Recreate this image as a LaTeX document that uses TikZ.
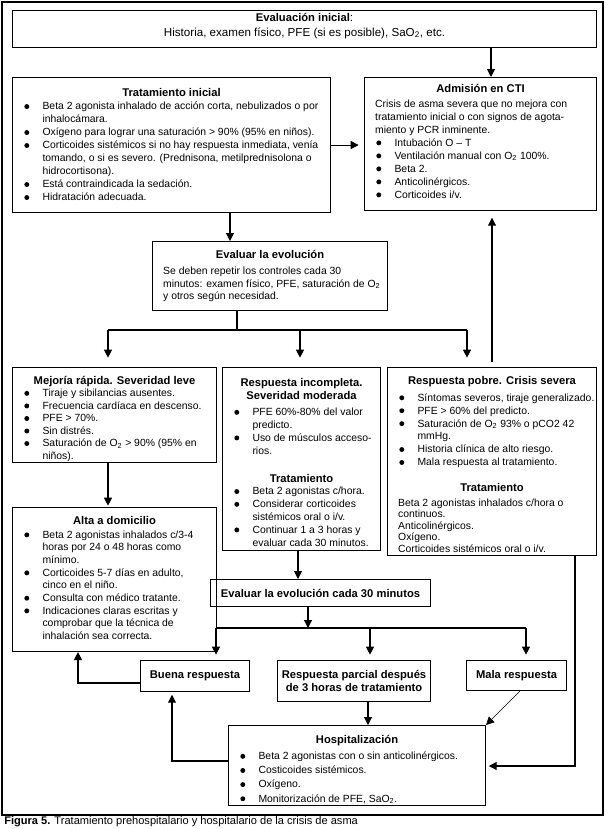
\documentclass[tikz,border=0pt]{standalone}
\usepackage{fontspec}
\setmainfont{Liberation Sans}
\usepackage{pict2e}
\usetikzlibrary{arrows.meta}
\newdimen\pxu \pxu=0.75pt
\newcommand{\lo}[1]{\textsubscript{#1}}
\newcommand{\bls}[1]{\fontsize{7.8}{#1}\selectfont}
\newcommand{\bxc}[4]{\parbox[t][#2\pxu][t]{#1\pxu}{\vspace*{#3pt}\raggedright\leftskip=8pt\rightskip=-20pt plus 1fil\relax #4}}
\newcommand{\ttl}[1]{{\centering\fontsize{8.4}{10}\selectfont\bfseries\strut #1\par}}
\newcommand{\bul}{{\setlength{\unitlength}{1pt}\begin{picture}(4,0)\put(2.1,2.5){\circle*{3.7}}\end{picture}}}
\newcommand{\itm}[1]{\par\noindent\hangindent=14.5pt\hangafter=1\makebox[14.5pt][l]{\hspace{0.6pt}\bul}#1\par}
\newcommand{\txt}[1]{\par\noindent #1\par}
\newcommand{\gap}[1]{\par\vspace{#1pt}}
\tikzset{
  bx/.style={draw, line width=0.8pt, inner sep=0pt, anchor=north west},
  sbx/.style={draw, line width=0.8pt, inner sep=0pt, anchor=north west, align=center, font=\fontsize{8.4}{10}\selectfont\bfseries},
  ln/.style={line width=0.8pt},
  arr/.style={line width=0.8pt, -{Triangle[length=6pt,width=6pt]}},
  tarr/.style={line width=0.4pt, -{Triangle[length=6pt,width=6pt]}},
  every node/.style={font=\fontsize{7.8}{9.4}\selectfont}
}
\begin{document}
\begin{tikzpicture}[x=0.75pt,y=-0.75pt]
\useasboundingbox (0,0) rectangle (606,829);
\draw[ln] (2,2) rectangle (603,815);
% boxes
\node[bx] (ini) at (12,10) {\bxc{584}{37}{2}{{\centering\fontsize{8.7}{11}\selectfont{\fontsize{8.4}{10}\selectfont\bfseries Evaluación inicial}:\\Historia, examen físico, PFE (si es posible), SaO\lo{2}, etc.\par}}};
\node[bx] (trat) at (12,77) {\bxc{318}{135}{7.5}{\bls{9.75}\ttl{Tratamiento inicial}%
\itm{Beta 2 agonista inhalado de acción corta, nebulizados o por\newline inhalocámara.}%
\itm{Oxígeno para lograr una saturación > 90\% (95\% en niños).}%
\itm{Corticoides sistémicos si no hay respuesta inmediata, venía\newline tomando, o si es severo. (Prednisona, metilprednisolona o\newline hidrocortisona).}%
\itm{Está contraindicada la sedación.}%
\itm{Hidratación adecuada.}}};
\node[bx] (adm) at (364,77) {\bxc{232}{133}{4.5}{\bls{9.75}\ttl{Admisión en CTI}\gap{1}%
\txt{Crisis de asma severa que no mejora con\newline tratamiento inicial o con signos de agota-\newline miento y PCR inminente.}%
\itm{Intubación O – T}%
\itm{Ventilación manual con O\lo{2} 100\%.}%
\itm{Beta 2.}%
\itm{Anticolinérgicos.}%
\itm{Corticoides i/v.}}};
\node[bx] (evo) at (152,241) {\bxc{235}{69}{5.5}{\ttl{Evaluar la evolución}\gap{3}%
\txt{Se deben repetir los controles cada 30\newline minutos: examen físico, PFE, saturación de O\lo{2}\newline y otros según necesidad.}}};
\node[bx] (mej) at (12,367) {\bxc{204}{95}{5.5}{\ttl{Mejoría rápida. Severidad leve}%
\itm{Tiraje y sibilancias ausentes.}%
\itm{Frecuencia cardíaca en descenso.}%
\itm{PFE > 70\%.}%
\itm{Sin distrés.}%
\itm{Saturación de O\lo{2} > 90\% (95\% en\newline niños).}}};
\node[bx] (inc) at (222,367) {\bxc{158}{183}{7}{\bls{9.6}\ttl{Respuesta incompleta.\\Severidad moderada}\gap{2.5}%
\itm{PFE 60\%-80\% del valor\newline predicto.}%
\itm{Uso de músculos acceso-\newline rios.}\gap{11}%
\ttl{Tratamiento}%
\itm{Beta 2 agonistas c/hora.}%
\itm{Considerar corticoides\newline sistémicos oral o i/v.}%
\itm{Continuar 1 a 3 horas y\newline evaluar cada 30 minutos.}}};
\node[bx] (pob) at (387,367) {\bxc{209}{188}{6}{\bls{9.7}\ttl{Respuesta pobre. Crisis severa}\gap{2.5}%
\itm{Síntomas severos, tiraje generalizado.}%
\itm{PFE > 60\% del predicto.}%
\itm{Saturación de O\lo{2} 93\% o pCO2 42\newline mmHg.}%
\itm{Historia clínica de alto riesgo.}%
\itm{Mala respuesta al tratamiento.}\gap{9}%
\ttl{Tratamiento}\gap{2.5}%
{\baselineskip=8.7pt\txt{Beta 2 agonistas inhalados c/hora o\newline continuos.\newline Anticolinérgicos.\newline Oxígeno.\newline Corticoides sistémicos oral o i/v.}}}};
\node[bx] (alta) at (12,507) {\bxc{204}{144}{5.5}{\bls{9.5}\ttl{Alta a domicilio}\gap{1}%
\itm{Beta 2 agonistas inhalados c/3-4\newline horas por 24 o 48 horas como\newline mínimo.}%
\itm{Corticoides 5-7 días en adulto,\newline cinco en el niño.}%
\itm{Consulta con médico tratante.}%
\itm{Indicaciones claras escritas y\newline comprobar que la técnica de\newline inhalación sea correcta.}}};
\node[sbx, minimum width=220\pxu, minimum height=27\pxu] (e30) at (210,579) {Evaluar la evolución cada 30 minutos};
\node[sbx, minimum width=109\pxu, minimum height=31\pxu] (buena) at (140,660) {Buena respuesta};
\node[sbx, minimum width=153\pxu, minimum height=41\pxu] (parcial) at (277,660) {Respuesta parcial después\\de 3 horas de tratamiento};
\node[sbx, minimum width=100\pxu, minimum height=30\pxu] (mala) at (466,660) {Mala respuesta};
\node[bx] (hosp) at (228,725) {\bxc{257}{80}{6.5}{\bls{10.6}\ttl{Hospitalización}\gap{1.5}%
\itm{Beta 2 agonistas con o sin anticolinérgicos.}%
\itm{Costicoides sistémicos.}%
\itm{Oxígeno.}%
\itm{Monitorización de PFE, SaO\lo{2}.}}};
\node[anchor=base west, inner sep=0pt, font=\fontsize{8.3}{10}\selectfont] (cap) at (4,824) {\textbf{Figura 5.} Tratamiento prehospitalario y hospitalario de la crisis de asma};
% helper coordinates
\coordinate (xa) at (491,0);
\coordinate (xb) at (230,0);
\coordinate (s1) at (237,330);
\coordinate (sL) at (108,330);
\coordinate (sR) at (467,330);
\coordinate (xc) at (300,0);
\coordinate (xd) at (492,0);
\coordinate (xe) at (298,0);
\coordinate (s2) at (308,628);
\coordinate (tL) at (216,628);
\coordinate (tR) at (526,628);
\coordinate (xf) at (370,0);
\coordinate (ya) at (0,683);
\coordinate (c1) at (78,683);
\coordinate (c2) at (172,761);
\coordinate (xg) at (368,0);
\coordinate (xh) at (520,0);
\coordinate (c3) at (575,766);
% connectors
\draw[arr] (ini.south -| xa) -- (adm.north -| xa);
\draw[arr, shorten >=4pt] (trat.east) -- (adm.west |- trat.east);
\draw[arr] (trat.south -| xb) -- (evo.north -| xb);
\draw[ln] (evo.south -| s1) -- (s1);
\draw[ln] (sL) -- (sR);
\draw[arr, shorten >=7pt] (sL) -- (mej.north -| sL);
\draw[arr, shorten >=7pt] (s1 -| xc) -- (inc.north -| xc);
\draw[arr, shorten >=7pt] (sR) -- (pob.north -| sR);
\draw[arr, shorten <=4pt, shorten >=5pt] (pob.north -| xd) -- (adm.south -| xd);
\draw[arr, shorten >=1pt] (mej.south -| sL) -- (alta.north -| sL);
\draw[arr] (inc.south -| xe) -- (e30.north -| xe);
\draw[arr] (e30.south -| s2) -- (s2);
\draw[ln] (tL) -- (tR);
\draw[arr, shorten >=4pt] (tL) -- (buena.north -| tL);
\draw[arr, shorten >=4pt] (s2 -| xf) -- (parcial.north -| xf);
\draw[arr, shorten >=4pt] (tR) -- (mala.north -| tR);
\draw[arr] (buena.west |- ya) -- (c1) -- (alta.south -| c1);
\draw[arr, shorten >=2pt] (hosp.west |- c2) -- (c2) -- (buena.south -| c2);
\draw[arr] (parcial.south -| xg) -- (hosp.north -| xg);
\draw[tarr] (mala.south -| xh) -- (hosp.north east);
\draw[arr, shorten >=2pt] (pob.south -| c3) -- (c3) -- (hosp.east |- c3);
\end{tikzpicture}
\end{document}
